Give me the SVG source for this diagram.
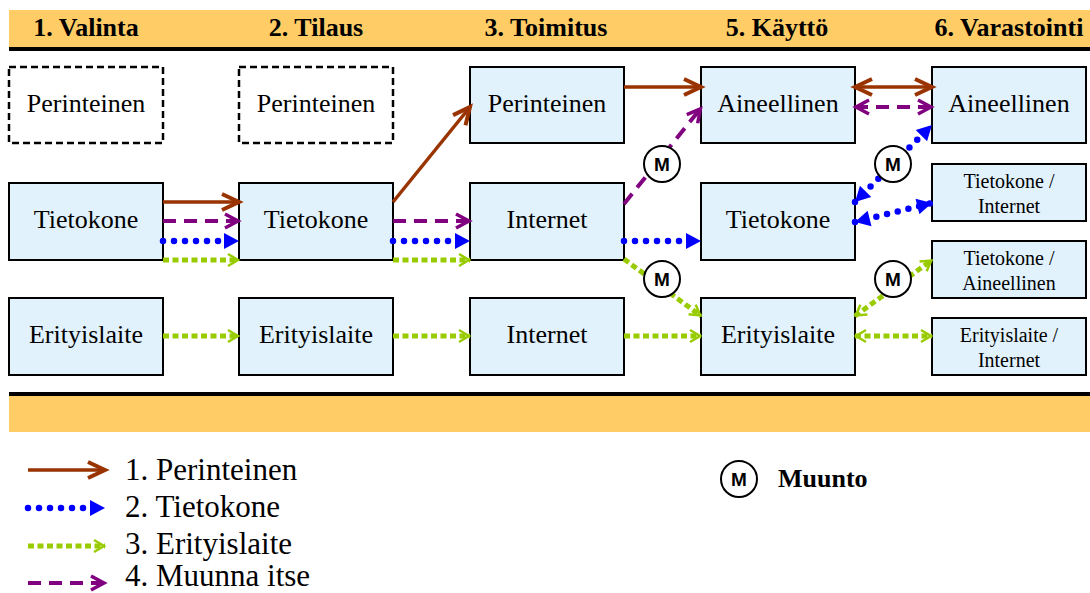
<svg xmlns="http://www.w3.org/2000/svg" width="1090" height="593" viewBox="0 0 1090 593">
<style>
.bar{fill:#FFCC66}
.hdr{font-family:"Liberation Serif",serif;font-weight:bold;font-size:26px;text-anchor:middle;fill:#000}
.box{fill:#E1F2FD;stroke:#000;stroke-width:2}
.dbox{fill:#fff;stroke:#000;stroke-width:2.5;stroke-dasharray:7 4}
.t{font-family:"Liberation Serif",serif;font-size:26px;text-anchor:middle;fill:#000}
.ts{font-family:"Liberation Serif",serif;font-size:20px;text-anchor:middle;fill:#000}
.lg{font-family:"Liberation Serif",serif;font-size:31px;fill:#000}
.br{fill:none;stroke:#993300;stroke-width:3.5}
.pu{fill:none;stroke:#800080;stroke-width:4;stroke-dasharray:13 8}
.bl{fill:none;stroke:#0000FF;stroke-width:6.5;stroke-linecap:round;stroke-dasharray:0 11}
.gr{fill:none;stroke:#99CC00;stroke-width:5;stroke-dasharray:6 3.5}
.mc{fill:#fff;stroke:#000;stroke-width:2}
.mt{font-family:"Liberation Sans",sans-serif;font-weight:bold;font-size:19px;text-anchor:middle;fill:#000}
</style>
<defs>
<marker id="aBr" markerUnits="userSpaceOnUse" markerWidth="30" markerHeight="30" viewBox="-20 -15 30 30" refX="0" refY="0" orient="auto-start-reverse" overflow="visible">
<path d="M-17,-8 L0,0 L-17,8" fill="none" stroke="#993300" stroke-width="4"/>
</marker>
<marker id="aPu" markerUnits="userSpaceOnUse" markerWidth="30" markerHeight="30" viewBox="-20 -15 30 30" refX="0" refY="0" orient="auto-start-reverse" overflow="visible">
<path d="M-14,-7 L-1,0 L-14,7" fill="none" stroke="#800080" stroke-width="3.5"/>
</marker>
<marker id="aBl" markerUnits="userSpaceOnUse" markerWidth="30" markerHeight="30" viewBox="-20 -15 30 30" refX="0" refY="0" orient="auto-start-reverse" overflow="visible">
<path d="M-15,-8 L0,0 L-15,8 Z" fill="#0000FF"/>
</marker>
<marker id="aGr" markerUnits="userSpaceOnUse" markerWidth="30" markerHeight="30" viewBox="-20 -15 30 30" refX="0" refY="0" orient="auto-start-reverse" overflow="visible">
<path d="M-11,-6 L-1,0 L-11,6" fill="none" stroke="#99CC00" stroke-width="2.5"/>
</marker>
</defs>
<rect width="1090" height="593" fill="#fff"/>
<g id="header">
<rect class="bar" x="9" y="10" width="1081" height="37"/>
<rect x="9" y="47" width="1081" height="4" fill="#000"/>
<text class="hdr" x="86" y="36">1. Valinta</text>
<text class="hdr" x="316" y="36">2. Tilaus</text>
<text class="hdr" x="546" y="36">3. Toimitus</text>
<text class="hdr" x="777" y="36">5. Käyttö</text>
<text class="hdr" x="1009" y="36">6. Varastointi</text>
</g>
<g id="footer">
<rect x="9" y="392" width="1081" height="4" fill="#000"/>
<rect class="bar" x="9" y="396" width="1081" height="36"/>
</g>
<g id="n-valinta-perinteinen"><rect class="dbox" x="9" y="67" width="154" height="76"/><text class="t" x="86" y="112">Perinteinen</text></g>
<g id="n-valinta-tietokone"><rect class="box" x="9" y="183" width="154" height="77"/><text class="t" x="86" y="228">Tietokone</text></g>
<g id="n-valinta-erityislaite"><rect class="box" x="9" y="298" width="154" height="77"/><text class="t" x="86" y="343">Erityislaite</text></g>
<g id="n-tilaus-perinteinen"><rect class="dbox" x="239" y="67" width="154" height="76"/><text class="t" x="316" y="112">Perinteinen</text></g>
<g id="n-tilaus-tietokone"><rect class="box" x="239" y="183" width="154" height="77"/><text class="t" x="316" y="228">Tietokone</text></g>
<g id="n-tilaus-erityislaite"><rect class="box" x="239" y="298" width="154" height="77"/><text class="t" x="316" y="343">Erityislaite</text></g>
<g id="n-toimitus-perinteinen"><rect class="box" x="470" y="67" width="154" height="76"/><text class="t" x="547" y="112">Perinteinen</text></g>
<g id="n-toimitus-internet1"><rect class="box" x="470" y="183" width="154" height="77"/><text class="t" x="547" y="228">Internet</text></g>
<g id="n-toimitus-internet2"><rect class="box" x="470" y="298" width="154" height="77"/><text class="t" x="547" y="343">Internet</text></g>
<g id="n-kaytto-aineellinen"><rect class="box" x="701" y="67" width="154" height="76"/><text class="t" x="778" y="112">Aineellinen</text></g>
<g id="n-kaytto-tietokone"><rect class="box" x="701" y="183" width="154" height="77"/><text class="t" x="778" y="228">Tietokone</text></g>
<g id="n-kaytto-erityislaite"><rect class="box" x="701" y="298" width="154" height="77"/><text class="t" x="778" y="343">Erityislaite</text></g>
<g id="n-varastointi-aineellinen"><rect class="box" x="932" y="67" width="154" height="76"/><text class="t" x="1009" y="112">Aineellinen</text></g>
<g id="n-varastointi-tietokone-internet"><rect class="box" x="932" y="164" width="154" height="57"/><text class="ts" x="1009" y="188">Tietokone /</text><text class="ts" x="1009" y="213">Internet</text></g>
<g id="n-varastointi-tietokone-aineellinen"><rect class="box" x="932" y="241" width="154" height="57"/><text class="ts" x="1009" y="265">Tietokone /</text><text class="ts" x="1009" y="290">Aineellinen</text></g>
<g id="n-varastointi-erityislaite-internet"><rect class="box" x="932" y="318" width="154" height="57"/><text class="ts" x="1009" y="342">Erityislaite /</text><text class="ts" x="1009" y="367">Internet</text></g>
<g id="connectors">
<path class="br" d="M163,202 L239,202" marker-end="url(#aBr)"/>
<path class="br" d="M393,202 L470,107" marker-end="url(#aBr)"/>
<path class="br" d="M624,87 L701,87" marker-end="url(#aBr)"/>
<path class="br" d="M855,87 L932,87" marker-start="url(#aBr)" marker-end="url(#aBr)"/>
<path class="pu" d="M163,221 L239,221" marker-end="url(#aPu)"/>
<path class="pu" d="M393,221 L470,221" marker-end="url(#aPu)"/>
<path class="pu" d="M624,204 L701,108" marker-end="url(#aPu)"/>
<path class="pu" d="M855,107 L932,107" marker-start="url(#aPu)" marker-end="url(#aPu)"/>
<path class="bl" d="M163,241 L239,241" marker-end="url(#aBl)"/>
<path class="bl" d="M393,241 L470,241" marker-end="url(#aBl)"/>
<path class="bl" d="M624,241 L701,241" marker-end="url(#aBl)"/>
<path class="bl" d="M855,202 L932,125" marker-start="url(#aBl)" marker-end="url(#aBl)"/>
<path class="bl" d="M855,222 L932,203" marker-start="url(#aBl)" marker-end="url(#aBl)"/>
<path class="gr" d="M163,260 L239,260" marker-end="url(#aGr)"/>
<path class="gr" d="M393,260 L470,260" marker-end="url(#aGr)"/>
<path class="gr" d="M163,336 L239,336" marker-end="url(#aGr)"/>
<path class="gr" d="M393,336 L470,336" marker-end="url(#aGr)"/>
<path class="gr" d="M624,336 L701,336" marker-end="url(#aGr)"/>
<path class="gr" d="M624,259 L701,316" marker-end="url(#aGr)"/>
<path class="gr" d="M855,316 L932,260" marker-start="url(#aGr)" marker-end="url(#aGr)"/>
<path class="gr" d="M855,336 L932,336" marker-start="url(#aGr)" marker-end="url(#aGr)"/>
</g>
<g id="m1"><circle class="mc" cx="662" cy="164" r="18"/><text class="mt" x="662" y="171">M</text></g>
<g id="m2"><circle class="mc" cx="662" cy="279" r="18"/><text class="mt" x="662" y="286">M</text></g>
<g id="m3"><circle class="mc" cx="893" cy="164" r="18"/><text class="mt" x="893" y="171">M</text></g>
<g id="m4"><circle class="mc" cx="893" cy="279" r="18"/><text class="mt" x="893" y="286">M</text></g>
<g id="legend">
<path class="br" d="M28,470 L105,470" marker-end="url(#aBr)"/>
<text class="lg" x="125" y="480">1. Perinteinen</text>
<path class="bl" d="M28,508 L105,508" marker-end="url(#aBl)"/>
<text class="lg" x="125" y="517">2. Tietokone</text>
<path class="gr" d="M28,546 L105,546" marker-end="url(#aGr)"/>
<text class="lg" x="125" y="554">3. Erityislaite</text>
<path class="pu" d="M28,583 L105,583" marker-end="url(#aPu)"/>
<text class="lg" x="125" y="586">4. Muunna itse</text>
<circle class="mc" cx="739" cy="479" r="18"/><text class="mt" x="739" y="486">M</text>
<text x="778" y="487" font-family="Liberation Serif, serif" font-weight="bold" font-size="26">Muunto</text>
</g>
</svg>
